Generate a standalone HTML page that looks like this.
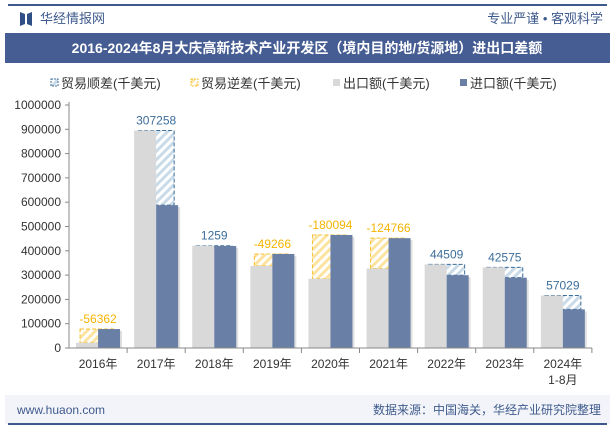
<!DOCTYPE html>
<html><head><meta charset="utf-8"><style>
body{margin:0;width:615px;height:427px;background:#fff;overflow:hidden;font-family:"Liberation Sans","Noto Sans CJK SC",sans-serif}
</style></head><body>
<svg width="615" height="427" xmlns="http://www.w3.org/2000/svg" font-family="Liberation Sans, Noto Sans CJK SC, sans-serif">
<defs>
<pattern id="hb" width="6" height="6" patternUnits="userSpaceOnUse" patternTransform="rotate(45)"><rect width="6" height="6" fill="#fff"/><rect width="3" height="6" fill="#c9dbe8"/></pattern>
<pattern id="hy" width="6" height="6" patternUnits="userSpaceOnUse" patternTransform="rotate(45)"><rect width="6" height="6" fill="#fff"/><rect width="3" height="6" fill="#fde3a0"/></pattern>
</defs>
<line x1="8" y1="5" x2="607" y2="5" stroke="#3e5a8c" stroke-width="2"/>
<g><path d="M20 12 L25 14 L25 24 L20 26 Z M32 12 L27 14 L27 24 L32 26 Z" fill="#2f4f86"/></g>
<text x="40" y="23" font-size="13" fill="#3e5a8c">华经情报网</text>
<text x="603" y="23" font-size="13" fill="#3e5a8c" text-anchor="end">专业严谨 • 客观科学</text>
<rect x="5" y="33" width="605" height="30" fill="#455d93"/>
<text x="307" y="53" font-size="14" font-weight="bold" fill="#fff" text-anchor="middle">2016-2024年8月大庆高新技术产业开发区（境内目的地/货源地）进出口差额</text>
<g font-size="13" fill="#333">
<rect x="51" y="79" width="7" height="7" fill="url(#hb)" stroke="#3c6e9a" stroke-dasharray="2,1"/>
<text x="61" y="88">贸易顺差(千美元)</text>
<rect x="191" y="79" width="7" height="7" fill="url(#hy)" stroke="#f5c030" stroke-dasharray="2,1"/>
<text x="201" y="88">贸易逆差(千美元)</text>
<rect x="333" y="79" width="7" height="7" fill="#d9d9d9"/>
<text x="343" y="88">出口额(千美元)</text>
<rect x="460" y="79" width="7" height="7" fill="#6a7fa6"/>
<text x="470" y="88">进口额(千美元)</text>
</g>
<g id="chart"></g>
<rect x="5" y="395" width="605" height="29" fill="#f2f4f9"/>
<line x1="8" y1="424" x2="607" y2="424" stroke="#3e5a8c" stroke-width="2"/>
<text x="17" y="414" font-size="12" fill="#3e5a8c">www.huaon.com</text>
<text x="601" y="414" font-size="12" fill="#3e5a8c" text-anchor="end">数据来源：中国海关，华经产业研究院整理</text>
</svg>
<script>
const categories=["2016年","2017年","2018年","2019年","2020年","2021年","2022年","2023年","2024年"];
const exportVals=[21638,895000,421000,337734,285000,327234,344000,332000,216000];
const importVals=[78000,587742,419741,387000,465094,452000,299491,289425,158971];
const diffVals=[-56362,307258,1259,-49266,-180094,-124766,44509,42575,57029];
const yTicks=[0,100000,200000,300000,400000,500000,600000,700000,800000,900000,1000000];
const NS="http://www.w3.org/2000/svg";
const g=document.getElementById('chart');
const x0=69,slot=58.1,y0=348,yTop=105,yMax=1000000;
const Y=v=>y0-(v/yMax)*(y0-yTop);
const X=i=>x0+slot*i+slot/2;
function el(t,a,txt){const e=document.createElementNS(NS,t);for(const k in a)e.setAttribute(k,a[k]);if(txt!=null)e.textContent=txt;g.appendChild(e);return e;}
let ax=el('line',{x1:x0,y1:yTop-3,x2:x0,y2:y0,stroke:'#888'});


yTicks.forEach(v=>{
 let t=el('line',{x1:x0-4,x2:x0,y1:Y(v),y2:Y(v),stroke:'#888'});
 
 
 let l=el('text',{x:x0-8,y:Y(v)+4,'font-size':12,fill:'#333','text-anchor':'end'},String(v));
 
 
});
categories.forEach((c,i)=>{
 const cx=X(i),bw=22;
 const d=diffVals[i],pos=d>=0;
 const top=Math.max(exportVals[i],importVals[i]),bot=Math.min(exportVals[i],importVals[i]);
 let box=el('rect',{x:cx-18,y:Y(top),width:36,height:Math.max(1,Y(bot)-Y(top)),fill:pos?'url(#hb)':'url(#hy)',stroke:pos?'#3c6e9a':'#f5c030','stroke-dasharray':'4,2'});
 
 
 let sh=el('rect',{x:cx+2,y:Y(importVals[i])+2,width:bw,height:y0-Y(importVals[i])-2,fill:'#000',opacity:0.12});
 
 
 let e=el('rect',{x:cx-bw,y:Y(exportVals[i]),width:bw,height:y0-Y(exportVals[i]),fill:'#d9d9d9'});
 
 
 let im=el('rect',{x:cx,y:Y(importVals[i]),width:bw,height:y0-Y(importVals[i]),fill:'#6a7fa6'});
 
 
 let lb=el('text',{x:cx,y:Y(top)-6,'font-size':12,fill:pos?'#3c6e9a':'#f5b400','text-anchor':'middle'},String(d));
 
 
 let tk=el('line',{x1:x0+slot*(i+1),x2:x0+slot*(i+1),y1:y0,y2:y0+5,stroke:'#888'});
 
 
 let xl=el('text',{x:cx,y:y0+20,'font-size':12,fill:'#333','text-anchor':'middle'},c);
 
 
});
let sub=el('text',{x:X(8),y:y0+36,'font-size':12,fill:'#333','text-anchor':'middle'},'1-8月');


let xa=el('line',{x1:x0,y1:y0,x2:x0+slot*9,y2:y0,stroke:'#888'});


</script>
</body></html>
